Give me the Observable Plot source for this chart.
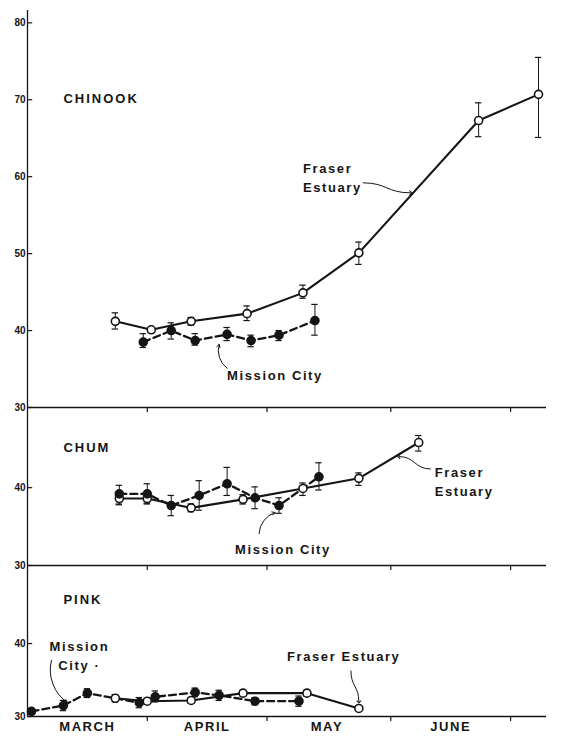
<!DOCTYPE html>
<html>
<head>
<meta charset="utf-8">
<script src="https://cdn.jsdelivr.net/npm/d3@7"></script>
<script src="https://cdn.jsdelivr.net/npm/@observablehq/plot@0.6"></script>
<style>
  body { margin: 0; background: #fff; }
  #chart { position: relative; width: 564px; height: 740px; }
  #chart svg { position: absolute; left: 0; }
</style>
</head>
<body>
<div id="chart"></div>
<script>
// ---------- data ----------
const months = ["MARCH", "APRIL", "MAY", "JUNE"];
const monthMid = ["1966-03-17", "1966-04-16", "1966-05-16", "1966-06-16"];
const monthStarts = ["1966-04-01", "1966-05-01", "1966-06-01", "1966-07-01"];

const chinookTicks = [30, 40, 50, 60, 70, 80];
const chumTicks = [30, 40];
const pinkTicks = [30, 40];

// CHINOOK
const chinookFraserDates = ["1966-03-24", "1966-04-02", "1966-04-12", "1966-04-26", "1966-05-10", "1966-05-24", "1966-06-23", "1966-07-08"];
const chinookFraserMean  = [41.2, 40.1, 41.2, 42.2, 44.9, 50.1, 67.3, 70.7];
const chinookFraserLow   = [40.2, 39.8, 40.7, 41.3, 44.2, 48.6, 65.2, 65.1];
const chinookFraserHigh  = [42.3, 40.4, 41.7, 43.2, 45.9, 51.5, 69.6, 75.5];

const chinookMissionDates = ["1966-03-31", "1966-04-07", "1966-04-13", "1966-04-21", "1966-04-27", "1966-05-04", "1966-05-13"];
const chinookMissionMean  = [38.5, 40.0, 38.7, 39.5, 38.7, 39.4, 41.3];
const chinookMissionLow   = [37.8, 38.9, 38.1, 38.7, 37.9, 38.7, 39.4];
const chinookMissionHigh  = [39.6, 41.0, 39.6, 40.4, 39.4, 40.0, 43.4];

// CHUM
const chumFraserDates = ["1966-03-25", "1966-04-01", "1966-04-12", "1966-04-25", "1966-05-10", "1966-05-24", "1966-06-08"];
const chumFraserMean  = [38.6, 38.6, 37.4, 38.5, 39.9, 41.2, 45.8];
const chumFraserLow   = [37.8, 38.0, 36.9, 37.9, 39.0, 40.3, 44.7];
const chumFraserHigh  = [39.4, 39.2, 37.9, 39.1, 40.6, 41.9, 46.7];

const chumMissionDates = ["1966-03-25", "1966-04-01", "1966-04-07", "1966-04-14", "1966-04-21", "1966-04-28", "1966-05-04", "1966-05-14"];
const chumMissionMean  = [39.2, 39.2, 37.7, 39.0, 40.5, 38.7, 37.7, 41.4];
const chumMissionLow   = [37.9, 37.9, 36.4, 37.1, 39.0, 37.3, 36.7, 39.7];
const chumMissionHigh  = [40.3, 40.5, 39.0, 40.9, 42.6, 40.1, 38.7, 43.2];

// PINK
const pinkFraserDates = ["1966-03-24", "1966-04-01", "1966-04-12", "1966-04-25", "1966-05-11", "1966-05-24"];
const pinkFraserMean  = [32.5, 32.1, 32.2, 33.2, 33.2, 31.1];
const pinkFraserLow   = [32.0, 31.7, 31.8, 32.8, 32.8, 30.8];
const pinkFraserHigh  = [33.0, 32.5, 32.6, 33.6, 33.6, 31.4];

const pinkMissionDates = ["1966-03-03", "1966-03-11", "1966-03-17", "1966-03-30", "1966-04-03", "1966-04-13", "1966-04-19", "1966-04-28", "1966-05-09"];
const pinkMissionMean  = [30.7, 31.5, 33.2, 31.9, 32.7, 33.3, 32.9, 32.1, 32.1];
const pinkMissionLow   = [30.3, 30.8, 32.6, 31.2, 32.0, 32.7, 32.2, 31.6, 31.4];
const pinkMissionHigh  = [31.1, 32.2, 33.8, 32.6, 33.5, 33.9, 33.6, 32.6, 32.8];

// annotation texts and anchors (data coordinates)
const chinookLabels = [
  {date: "1966-03-11", value: 70.4, text: "CHINOOK", anchor: "start"},
  {date: "1966-05-10", value: 60.0, text: "Fraser\nEstuary", anchor: "start"},
  {date: "1966-04-21", value: 34.3, text: "Mission City", anchor: "start"}
];
const chinookArrows = [
  {d1: "1966-05-25", v1: 59.2, d2: "1966-06-06", v2: 57.9, kind: "bump-x"},
  {d1: "1966-04-21", v1: 35.1, d2: "1966-04-19", v2: 38.2, kind: "bend", bend: 35}
];
const chumLabels = [
  {date: "1966-03-11", value: 45.3, text: "CHUM", anchor: "start"},
  {date: "1966-06-12", value: 40.9, text: "Fraser\nEstuary", anchor: "start"},
  {date: "1966-04-23", value: 32.3, text: "Mission City", anchor: "start"}
];
const chumArrows = [
  {d1: "1966-06-11", v1: 42.4, d2: "1966-06-03", v2: 44.0, kind: "bump-x"},
  {d1: "1966-04-29", v1: 34.1, d2: "1966-05-03", v2: 36.8, kind: "bend", bend: 35}
];
const pinkLabels = [
  {date: "1966-03-11", value: 46.2, text: "PINK", anchor: "start"},
  {date: "1966-03-15", value: 38.5, text: "Mission\nCity ·", anchor: "middle"},
  {date: "1966-05-06", value: 38.4, text: "Fraser Estuary", anchor: "start"}
];
const pinkArrows = [
  {d1: "1966-03-08", v1: 37.7, d2: "1966-03-12", v2: 31.9, kind: "bend", bend: -35},
  {d1: "1966-05-22", v1: 36.3, d2: "1966-05-24", v2: 32.0, kind: "bump-y"}
];

// ---------- drawing ----------
const ink = "#151515";
const font = "'Liberation Sans', Arial, sans-serif";
const DAY = 864e5;
const xDomain = [new Date("1966-03-02"), new Date("1966-07-10")];
const monthStartDates = monthStarts.map(d => new Date(d));
const monthLabelRows = monthMid.map((d, i) => ({date: new Date(d), label: months[i]}));

function rows(dates, mean, low, high) {
  return dates.map((d, i) => ({date: new Date(d), mean: mean[i], low: low[i], high: high[i]}));
}

function seriesMarks(data, filled) {
  const lineOpts = filled
    ? {stroke: ink, strokeWidth: 2.3, strokeDasharray: "7,4"}
    : {stroke: ink, strokeWidth: 2.1};
  return [
    Plot.line(data, {x: "date", y: "mean", ...lineOpts}),
    Plot.ruleX(data, {x: "date", y1: "low", y2: "high", stroke: ink, strokeWidth: 1}),
    Plot.ruleY(data, {y: "high", x1: d => new Date(+d.date - 0.8 * DAY), x2: d => new Date(+d.date + 0.8 * DAY), stroke: ink, strokeWidth: 1.2}),
    Plot.ruleY(data, {y: "low", x1: d => new Date(+d.date - 0.8 * DAY), x2: d => new Date(+d.date + 0.8 * DAY), stroke: ink, strokeWidth: 1.2})
  ];
}

function dotMarks(data, filled) {
  return Plot.dot(data, {x: "date", y: "mean", r: 4, fill: filled ? ink : "white", stroke: ink, strokeWidth: 1.6});
}

function panel(o) {
  const innerH = o.height - o.mt - o.mb;
  const fr = rows(...o.fraser);
  const mi = rows(...o.mission);
  const labels = o.labels.map(d => ({...d, date: new Date(d.date)}));
  const arrows = o.arrows.map(d => ({...d, d1: new Date(d.d1), d2: new Date(d.d2)}));
  const marks = [
    Plot.ruleX([0], {x: () => xDomain[0], stroke: ink, strokeWidth: 1.3}),
    Plot.ruleY([30], {stroke: ink, strokeWidth: 1.3}),
    Plot.ruleY(o.yTicks, {y: d => d, x1: () => xDomain[0], x2: () => new Date(+xDomain[0] + 1.3 * DAY), stroke: ink, strokeWidth: 1.2}),
    Plot.text(o.yTicks, {x: () => xDomain[0], y: d => d, text: d => String(d), textAnchor: "end", dx: -2, fontSize: 10, fontWeight: "bold", fill: ink})
  ];
  if (o.topTicks) marks.push(Plot.tickX(monthStartDates, {x: d => d, insetBottom: innerH - 5, stroke: ink, strokeWidth: 1.2}));
  if (o.bottomAxis) {
    marks.push(Plot.tickX(monthStartDates, {x: d => d, insetTop: innerH, insetBottom: -5, stroke: ink, strokeWidth: 1.2}));
    marks.push(Plot.text(monthLabelRows, {x: "date", text: "label", frameAnchor: "bottom", dy: 14, fontSize: 13, fontWeight: "bold", fill: ink}));
  }
  marks.push(...seriesMarks(fr, false), ...seriesMarks(mi, true));
  marks.push(dotMarks(fr, false), dotMarks(mi, true));
  // annotations
  for (const a of arrows) {
    if (a.kind === "bend") {
      marks.push(Plot.arrow([a], {x1: "d1", y1: "v1", x2: "d2", y2: "v2", bend: a.bend, headLength: 5, stroke: ink, strokeWidth: 1}));
    } else {
      marks.push(Plot.link([a], {x1: "d1", y1: "v1", x2: "d2", y2: "v2", curve: a.kind, markerEnd: "arrow", stroke: ink, strokeWidth: 1}));
    }
  }
  for (const anchor of ["start", "middle"]) {
    const sub = labels.filter(d => d.anchor === anchor);
    if (sub.length) marks.push(Plot.text(sub, {x: "date", y: "value", text: "text", textAnchor: anchor, lineHeight: 1.45, fontSize: 13, fontWeight: "bold", fill: ink}));
  }

  const svg = Plot.plot({
    width: 564,
    height: o.height,
    marginLeft: 27,
    marginRight: 18,
    marginTop: o.mt,
    marginBottom: o.mb,
    style: {background: "transparent", overflow: "visible", fontFamily: font},
    x: {type: "utc", domain: xDomain, axis: null},
    y: {type: "linear", domain: [30, o.ymax], axis: null},
    marks
  });
  svg.style.top = o.top + "px";
  // widen the lettering like the hand-lettered original (all non-numeric text)
  svg.querySelectorAll("text").forEach(t => {
    const s = t.textContent.trim();
    if (!/^\d+$/.test(s)) {
      const sp = ["CHINOOK", "CHUM", "PINK"].includes(s) ? "2px" : "1.6px";
      t.setAttribute("letter-spacing", sp);
      t.style.letterSpacing = sp;
    }
  });
  return svg;
}

const chart = document.getElementById("chart");
chart.appendChild(panel({
  top: 0, height: 420, mt: 10, mb: 13, ymax: 81.6, yTicks: chinookTicks,
  fraser: [chinookFraserDates, chinookFraserMean, chinookFraserLow, chinookFraserHigh],
  mission: [chinookMissionDates, chinookMissionMean, chinookMissionLow, chinookMissionHigh],
  labels: chinookLabels, arrows: chinookArrows
}));
chart.appendChild(panel({
  top: 400, height: 180, mt: 7, mb: 15, ymax: 50.3, yTicks: chumTicks, topTicks: true,
  fraser: [chumFraserDates, chumFraserMean, chumFraserLow, chumFraserHigh],
  mission: [chumMissionDates, chumMissionMean, chumMissionLow, chumMissionHigh],
  labels: chumLabels, arrows: chumArrows
}));
chart.appendChild(panel({
  top: 558, height: 182, mt: 7, mb: 24, ymax: 50.7, yTicks: pinkTicks, topTicks: true, bottomAxis: true,
  fraser: [pinkFraserDates, pinkFraserMean, pinkFraserLow, pinkFraserHigh],
  mission: [pinkMissionDates, pinkMissionMean, pinkMissionLow, pinkMissionHigh],
  labels: pinkLabels, arrows: pinkArrows
}));
</script>
</body>
</html>
